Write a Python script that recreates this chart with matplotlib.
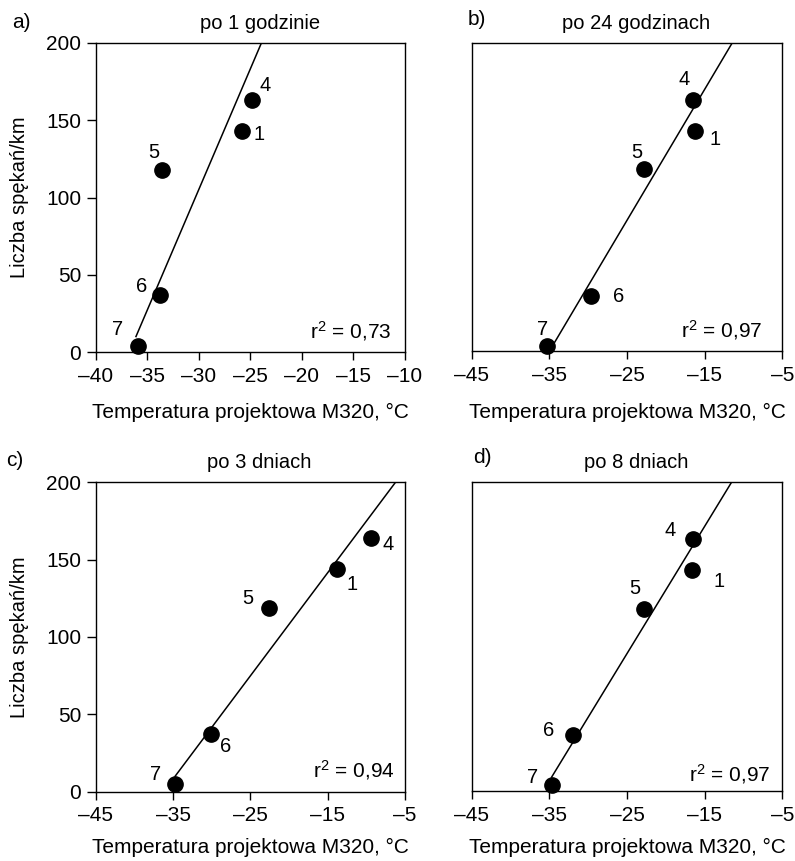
import matplotlib
matplotlib.use("Agg")
import matplotlib.pyplot as plt
from matplotlib.ticker import FuncFormatter
import numpy as np


# point numbers, same order in every panel
POINT_IDS = ["1", "4", "5", "6", "7"]

# temperatura projektowa M320 [°C] and liczba spękań/km
TEMP_1H = [-25.8, -24.8, -33.6, -33.8, -35.9]
CRACKS_1H = [143, 163, 118, 37, 4]

TEMP_24H = [-16.25, -16.5, -22.8, -29.6, -35.3]
CRACKS_24H = [143, 163, 118, 36, 3]

TEMP_3D = [-13.8, -9.4, -22.65, -30.15, -34.8]
CRACKS_3D = [144, 164, 119, 37, 5]

TEMP_8D = [-16.6, -16.5, -22.8, -32.0, -34.7]
CRACKS_8D = [143, 163, 118, 36, 4]

R2_TEXT = ["0,73", "0,97", "0,94", "0,97"]
LINE_Y_START = [10, 3, 10, 9]  # crack count where the drawn fit line begins

TITLES = ["po 1 godzinie", "po 24 godzinach", "po 3 dniach", "po 8 dniach"]
LETTERS = ["a)", "b)", "c)", "d)"]
XLIMS = [(-40, -10), (-45, -5), (-45, -5), (-45, -5)]
XTICKS = [list(range(-40, -5, 5)), list(range(-45, 0, 10)),
          list(range(-45, 0, 10)), list(range(-45, 0, 10))]
YTICKS = [0, 50, 100, 150, 200]

XLABEL = "Temperatura projektowa M320, °C"
YLABEL = "Liczba spękań/km"

W, H = 795, 861

# layout, in pixels of the 795x861 image
PANELS = [
    {"temp": TEMP_1H, "cracks": CRACKS_1H, "box": (95.7, 43, 405, 352), "yaxis": True,
     "narrow": True, "xlabel_dy": 66, "letter_xy": (12, 28), "r2_xy": (0.955, 0.045),
     "offsets": {"1": (17, 3), "4": (13, -15), "5": (-8, -17), "6": (-18, -8), "7": (-20, -16)}},
    {"temp": TEMP_24H, "cracks": CRACKS_24H, "box": (471.7, 43, 782.3, 351), "yaxis": False,
     "narrow": False, "xlabel_dy": 67, "letter_xy": (468, 25), "r2_xy": (0.935, 0.045),
     "offsets": {"1": (20, 9), "4": (-9, -20), "5": (-7, -17), "6": (27, 1), "7": (-4, -17)}},
    {"temp": TEMP_3D, "cracks": CRACKS_3D, "box": (95.7, 482.3, 405, 791.7), "yaxis": True,
     "narrow": False, "xlabel_dy": 61.5, "letter_xy": (6, 466), "r2_xy": (0.966, 0.048),
     "offsets": {"1": (15, 16), "4": (17, 7), "5": (-21, -9), "6": (15, 12), "7": (-19, -9)}},
    {"temp": TEMP_8D, "cracks": CRACKS_8D, "box": (471.7, 481.7, 782.3, 791), "yaxis": False,
     "narrow": False, "xlabel_dy": 62, "letter_xy": (473, 463), "r2_xy": (0.96, 0.03),
     "offsets": {"1": (27, 12), "4": (-23, -8), "5": (-9, -20), "6": (-24, -5), "7": (-19, -7)}},
]


def set_style():
    plt.rcParams.update(
        {
            "font.family": ["Liberation Sans", "DejaVu Sans"],
            "font.size": 14,
            "mathtext.default": "regular",
            "axes.linewidth": 1.0,
            "xtick.labelsize": 15,
            "ytick.labelsize": 15,
            "xtick.major.size": 6,
            "ytick.major.size": 6.5,
            "xtick.major.width": 1.0,
            "ytick.major.width": 1.0,
            "xtick.major.pad": 4.5,
            "ytick.major.pad": 4,
        }
    )


def dash_fmt(v, _pos):
    # source figure uses an en dash for negative numbers
    return f"{v:.0f}".replace("-", "\u2013")


def draw_panel(fig, i, panel):
    x0, y0, x1, y1 = panel["box"]
    ax = fig.add_axes([x0 / W, 1 - y1 / H, (x1 - x0) / W, (y1 - y0) / H])

    temp = np.asarray(panel["temp"], dtype=float)
    cracks = np.asarray(panel["cracks"], dtype=float)

    # temperature regressed on crack count, as in the source figure
    coef = np.polyfit(cracks, temp, 1)
    ys = np.array([LINE_Y_START[i], 200.0])
    ax.plot(np.polyval(coef, ys), ys, color="black", linewidth=1.1)

    ax.plot(temp, cracks, "o", color="black", markersize=11, clip_on=False, zorder=3)
    for pid, tx, cy in zip(POINT_IDS, temp, cracks):
        dx, dy = panel["offsets"][pid]
        ax.annotate(pid, (tx, cy), xytext=(dx, -dy), textcoords="offset pixels",
                    ha="center", va="center", fontsize=14.5)

    ax.set_xlim(*XLIMS[i])
    ax.set_ylim(0, 200)
    ax.set_xticks(XTICKS[i])
    ax.xaxis.set_major_formatter(FuncFormatter(dash_fmt))
    if panel["yaxis"]:
        ax.set_yticks(YTICKS)
    else:
        ax.set_yticks([])
    ax.tick_params(direction="out", top=False, right=False)
    if panel["narrow"]:
        for lab in ax.get_xticklabels():
            lab.set_family(["Liberation Sans Narrow", "Liberation Sans"])

    ax.text(0.53, 1.045, TITLES[i], transform=ax.transAxes, ha="center", va="baseline", fontsize=14.5)
    ax.text(panel["r2_xy"][0], panel["r2_xy"][1], r"r$^{2}$ = " + R2_TEXT[i],
            transform=ax.transAxes, ha="right", va="baseline", fontsize=15)

    lx, ly = panel["letter_xy"]
    fig.text(lx / W, 1 - ly / H, LETTERS[i], ha="left", va="baseline", fontsize=15)
    fig.text((x0 + x1) / 2 / W, 1 - (y1 + panel["xlabel_dy"]) / H, XLABEL,
             ha="center", va="baseline", fontsize=15)
    if panel["yaxis"]:
        fig.text(19.5 / W, 1 - (y0 + y1) / 2 / H, YLABEL, rotation=90,
                 ha="center", va="center", fontsize=14.5)
    return ax


def main():
    set_style()
    fig = plt.figure(figsize=(W / 100, H / 100), dpi=100)
    for i, panel in enumerate(PANELS):
        draw_panel(fig, i, panel)
    fig.savefig("out.png", dpi=100)


if __name__ == "__main__":
    main()
